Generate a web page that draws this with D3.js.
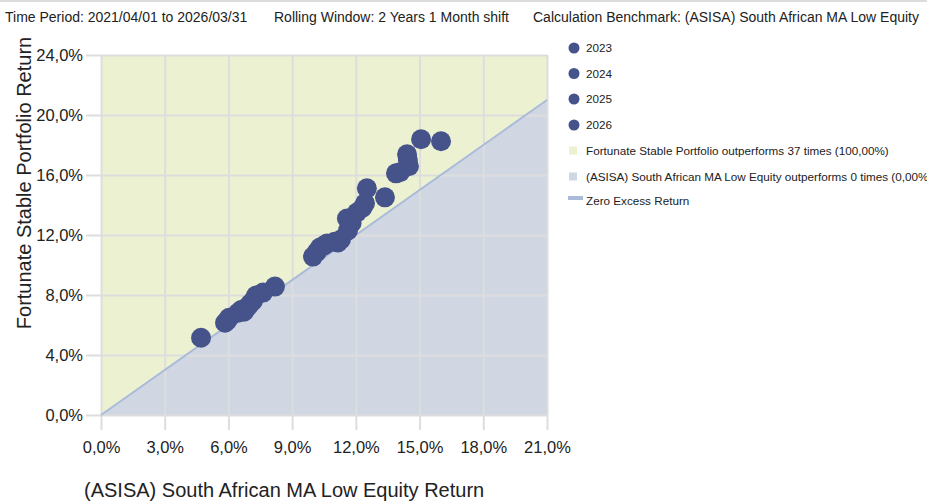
<!DOCTYPE html>
<html><head><meta charset="utf-8">
<script src="https://cdn.jsdelivr.net/npm/d3@7"></script>
<style>
html,body{margin:0;padding:0;background:#fff;}
svg{display:block;font-family:"Liberation Sans",Arial,sans-serif;}
</style></head>
<body><svg id="c" width="927" height="504"></svg>
<script>
// ---- data ----
const headerTexts = ["Time Period: 2021/04/01 to 2026/03/31", "Rolling Window: 2 Years 1 Month shift", "Calculation Benchmark: (ASISA) South African MA Low Equity"];
const years = ["2023", "2024", "2025", "2026"];
// benchmark return (x, %) and portfolio return (y, %) per rolling window, grouped by year
const x2023 = [9.98, 10.15, 10.31, 10.50, 10.64, 11.00, 11.16, 11.30, 11.63, 11.58];
const y2023 = [10.56, 10.85, 11.16, 11.30, 11.43, 11.55, 11.50, 11.70, 12.30, 13.10];
const x2024 = [4.71, 5.84, 5.95, 6.03, 6.45, 6.60, 6.73, 6.78, 6.90, 7.02, 7.15, 7.30];
const y2024 = [5.15, 6.15, 6.30, 6.48, 6.82, 7.00, 6.89, 7.09, 7.20, 7.42, 7.60, 7.96];
const x2025 = [7.63, 8.19, 11.80, 12.05, 12.30, 12.43, 12.52, 13.37, 13.89, 14.08, 14.50, 14.45];
const y2025 = [8.16, 8.56, 12.80, 13.50, 13.80, 14.11, 15.11, 14.51, 16.11, 16.18, 16.58, 17.00];
const x2026 = [14.41, 15.07, 16.01];
const y2026 = [17.38, 18.38, 18.25];
const xTicks = [0, 3, 6, 9, 12, 15, 18, 21];
const yTicks = [0, 4, 8, 12, 16, 20, 24];
const xTitle = "(ASISA) South African MA Low Equity Return";
const yTitle = "Fortunate Stable Portfolio Return";
const legendAreas = ["Fortunate Stable Portfolio outperforms 37 times (100,00%)", "(ASISA) South African MA Low Equity outperforms 0 times (0,00%)"];
const legendLine = "Zero Excess Return";

const seriesX = [x2023, x2024, x2025, x2026];
const seriesY = [y2023, y2024, y2025, y2026];

// ---- style ----
const C_POINT = "#46538b", C_UP = "#ecf2d1", C_DOWN = "#d1d6e3", C_LINE = "#a9bbd9", C_GRID = "#dddddd";
const fmt = v => d3.format(".1f")(v).replace(".", ",") + "%";

const svg = d3.select("#c");
const L = 101, R = 547, T = 55, B = 415;
const x = d3.scaleLinear().domain([0, 21]).range([L, R]);
const y = d3.scaleLinear().domain([0, 24]).range([B, T]);

// top border
svg.append("line").attr("x1", 0).attr("x2", 927).attr("y1", 1).attr("y2", 1).attr("stroke", "#dcdcdc").attr("stroke-width", 2);

// header
const hx = [5, 274, 533];
headerTexts.forEach((t, i) => svg.append("text").attr("x", hx[i]).attr("y", 22).attr("font-size", "14px").attr("fill", "#222").text(t));

// areas
const xmax = 21, ymax = 24;
svg.append("path").attr("fill", C_UP)
  .attr("d", d3.line()([[x(0), y(0)], [x(0), y(ymax)], [x(xmax), y(ymax)], [x(xmax), y(xmax)]]) + "Z");
svg.append("path").attr("fill", C_DOWN)
  .attr("d", d3.line()([[x(0), y(0)], [x(xmax), y(xmax)], [x(xmax), y(0)]]) + "Z");

// axes with grid
const gx = svg.append("g").attr("transform", `translate(0,${B + 15})`)
  .call(d3.axisBottom(x).tickValues(xTicks).tickFormat(fmt).tickSize(-(B + 15 - T)).tickPadding(11));
const gy = svg.append("g").attr("transform", `translate(${L - 15},0)`)
  .call(d3.axisLeft(y).tickValues(yTicks).tickFormat(fmt).tickSize(-(R - L + 15)).tickPadding(3));
[gx, gy].forEach(g => {
  g.select(".domain").remove();
  g.selectAll(".tick line").attr("stroke", C_GRID).attr("stroke-width", 2);
  g.selectAll(".tick text").attr("font-size", "16.5px").attr("fill", "#222").attr("font-family", "Liberation Sans, Arial, sans-serif");
});

// zero excess line
svg.append("line").attr("x1", x(0)).attr("y1", y(0)).attr("x2", x(xmax)).attr("y2", y(xmax))
  .attr("stroke", C_LINE).attr("stroke-width", 2);

// points
years.forEach((yr, i) => {
  svg.append("g").selectAll("circle").data(seriesX[i].map((v, j) => [v, seriesY[i][j]])).join("circle")
    .attr("cx", d => x(d[0])).attr("cy", d => y(d[1])).attr("r", 10).attr("fill", C_POINT);
});

// titles
svg.append("text").attr("x", 84).attr("y", 497).attr("font-size", "20px").attr("fill", "#222").text(xTitle);
svg.append("text").attr("transform", "translate(31,183) rotate(-90)").attr("text-anchor", "middle")
  .attr("font-size", "20px").attr("fill", "#222").text(yTitle);

// legend
const lg = svg.append("g").attr("font-size", "11.7px").attr("fill", "#222");
years.forEach((yr, i) => {
  const cy = [48, 73.5, 99, 125][i];
  lg.append("circle").attr("cx", 574).attr("cy", cy).attr("r", 5.5).attr("fill", C_POINT);
  lg.append("text").attr("x", 586).attr("y", cy + 4).text(yr);
});
[[C_UP, 150.5], [C_DOWN, 176.5]].forEach(([c, cy], i) => {
  lg.append("rect").attr("x", 569).attr("y", cy - 4).attr("width", 8).attr("height", 8).attr("fill", c);
  lg.append("text").attr("x", 586).attr("y", cy + 4).text(legendAreas[i]);
});
lg.append("rect").attr("x", 568).attr("y", 196).attr("width", 15).attr("height", 4).attr("fill", C_LINE);
lg.append("text").attr("x", 586).attr("y", 205).text(legendLine);
</script></body></html>
